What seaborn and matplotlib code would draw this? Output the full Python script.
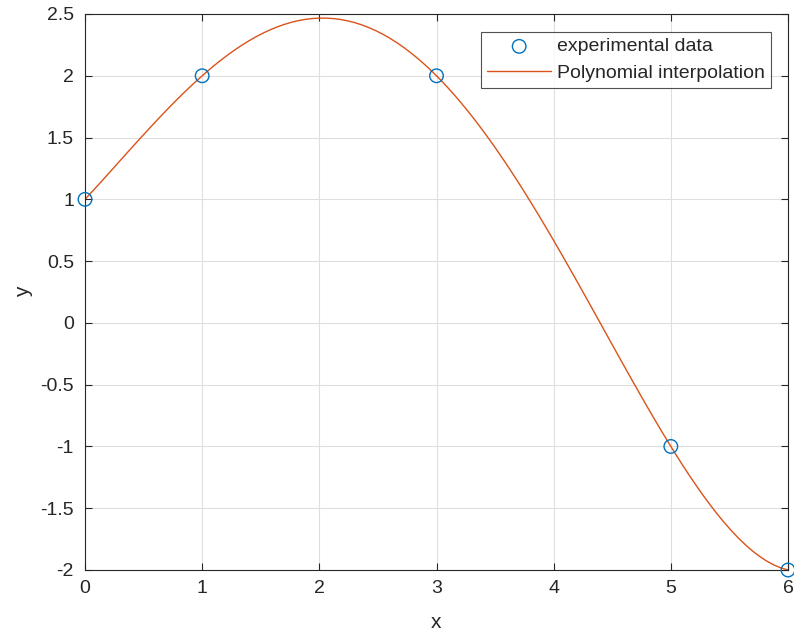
import matplotlib
matplotlib.use("Agg")
import matplotlib.pyplot as plt
import seaborn as sns
import pandas as pd

x_data = [0, 1, 3, 5, 6]
y_data = [1, 2, 2, -1, -2]
poly_order = 4
x_ticks = [0, 1, 2, 3, 4, 5, 6]
y_ticks = [-2, -1.5, -1, -0.5, 0, 0.5, 1, 1.5, 2, 2.5]
y_tick_labels = ["-2", "-1.5", "-1", "-0.5", "0", "0.5", "1", "1.5", "2", "2.5"]

sns.set_style("white")
plt.rcParams["font.family"] = ["Liberation Sans", "DejaVu Sans"]
plt.rcParams["font.size"] = 14

df = pd.DataFrame({"x": x_data, "y": y_data})

fig = plt.figure(figsize=(7.94, 6.33), dpi=100)
ax = fig.add_axes([85/794, 1-570/633, (788-85)/794, (570-14)/633])

sns.regplot(data=df, x="x", y="y", order=poly_order, ci=None, scatter=False,
            truncate=True, ax=ax,
            line_kws=dict(color="#D95319", lw=1.0, zorder=2))
ax.lines[0].set_label("Polynomial interpolation")
sns.scatterplot(data=df, x="x", y="y", ax=ax, marker="o", s=95,
                facecolors="none", edgecolor="#0072BD", linewidth=1.0,
                zorder=3, label="experimental data", clip_on=False)

ax.set_xlim(0, 6)
ax.set_ylim(-2, 2.5)
ax.set_xticks(x_ticks)
ax.set_xticklabels([str(t) for t in x_ticks])
ax.set_yticks(y_ticks)
ax.set_yticklabels(y_tick_labels)
ax.grid(True, color="#DFDFDF", lw=0.8)
ax.set_axisbelow(True)
for s in ax.spines.values():
    s.set_color("#262626")
    s.set_linewidth(0.8)
    s.set_visible(True)
ax.tick_params(direction="in", length=5, width=0.8, color="#262626",
               labelcolor="#262626", labelsize=14,
               top=True, right=True, bottom=True, left=True)
ax.tick_params(axis="x", pad=7.5)
ax.tick_params(axis="y", pad=8)
ax.set_xlabel("x", fontsize=15, color="#262626", labelpad=11)
ax.set_ylabel("y", fontsize=15, color="#262626", labelpad=5)

handles, labels = ax.get_legend_handles_labels()
order = [labels.index("experimental data"), labels.index("Polynomial interpolation")]
leg = ax.legend([handles[i] for i in order], [labels[i] for i in order],
                loc="upper right", bbox_to_anchor=(0.9758, 0.9676),
                frameon=True, fancybox=False, edgecolor="#262626",
                fontsize=14, handlelength=3.3, borderpad=0.3,
                labelspacing=0.45, handletextpad=0.31, borderaxespad=0)
leg.get_frame().set_linewidth(0.8)

fig.savefig("out.png", dpi=100)
